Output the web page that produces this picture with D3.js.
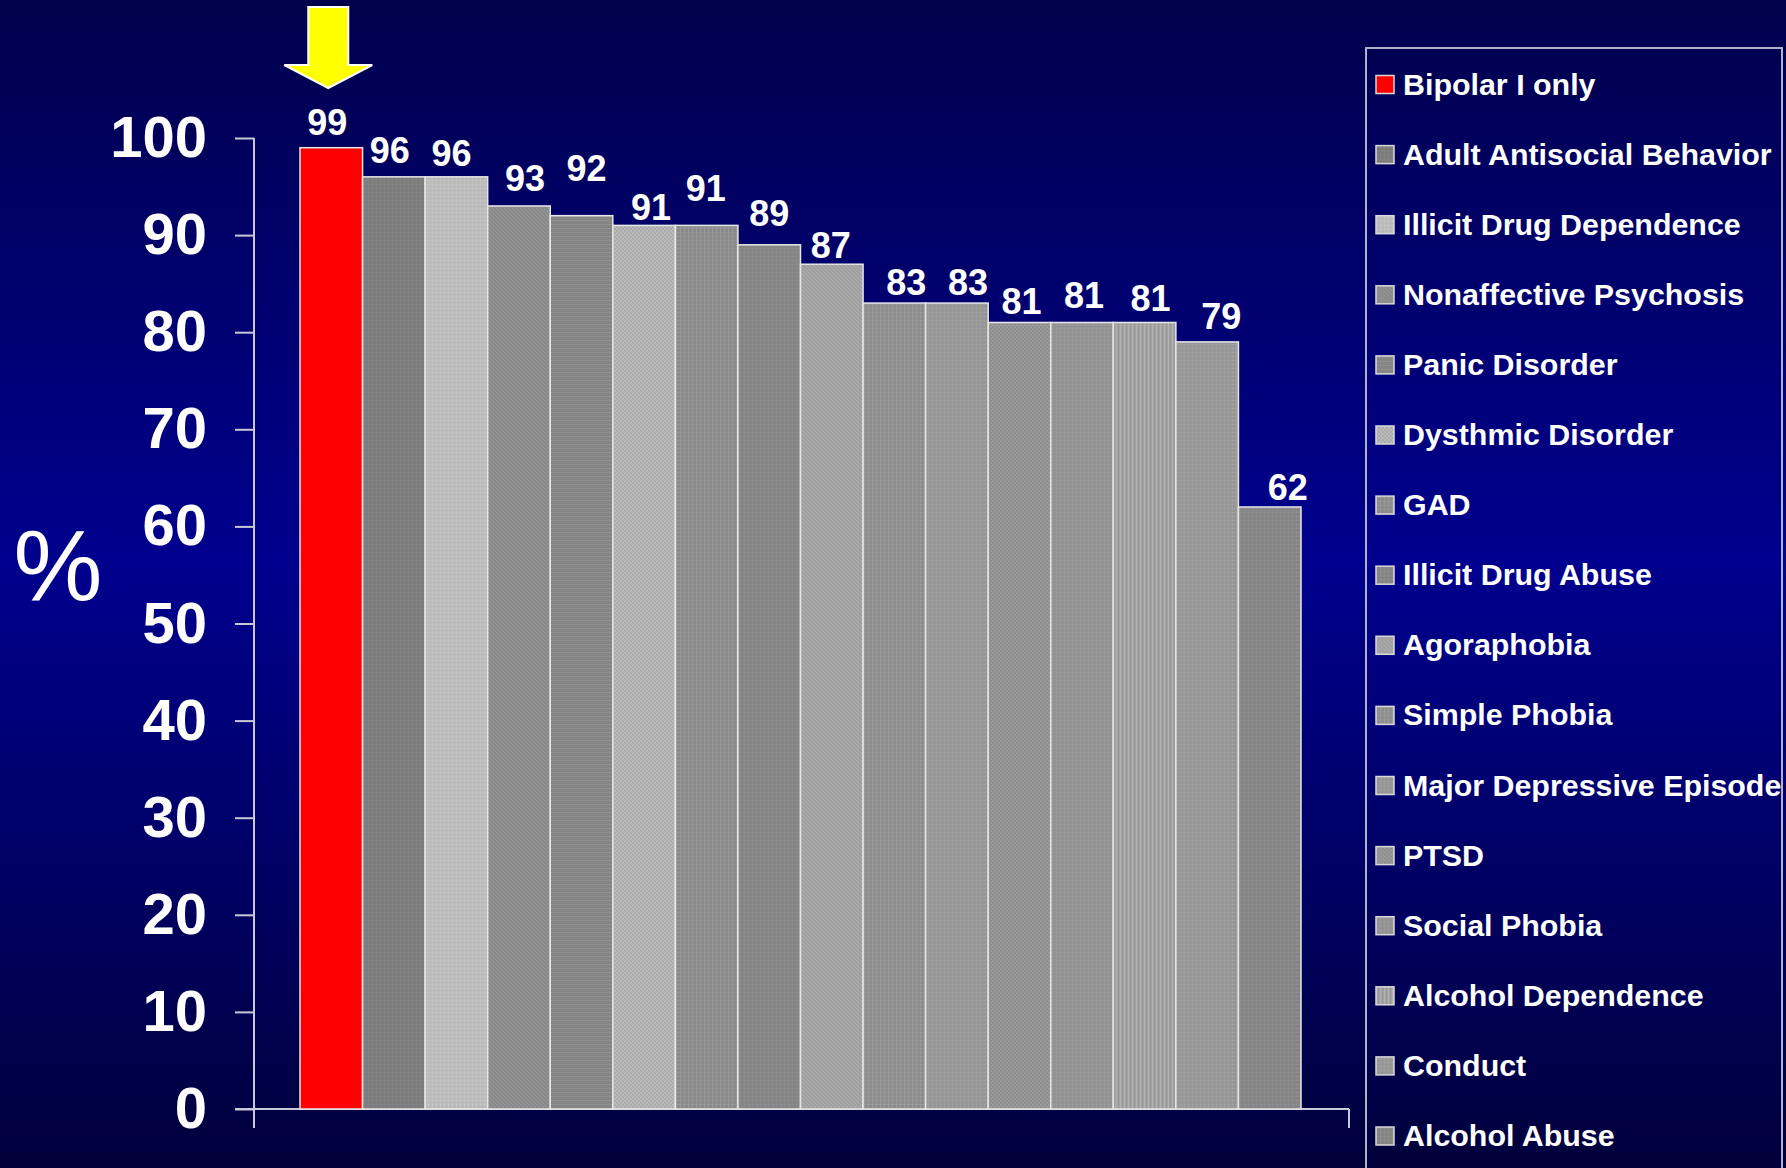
<!DOCTYPE html>
<html>
<head>
<meta charset="utf-8">
<script src="https://cdn.jsdelivr.net/npm/d3@7"></script>
<style>
  html, body { margin: 0; padding: 0; background: #000060; }
  svg { display: block; }
  text { font-family: "Liberation Sans", Arial, Helvetica, sans-serif; }
</style>
</head>
<body>
<svg id="chart" width="1786" height="1168"></svg>
<script>
// Lifetime comorbidity (%) by disorder
const categories = [
  "Bipolar I only", "Adult Antisocial Behavior", "Illicit Drug Dependence",
  "Nonaffective Psychosis", "Panic Disorder", "Dysthmic Disorder", "GAD",
  "Illicit Drug Abuse", "Agoraphobia", "Simple Phobia", "Major Depressive Episode",
  "PTSD", "Social Phobia", "Alcohol Dependence", "Conduct", "Alcohol Abuse"
];
const values = [99, 96, 96, 93, 92, 91, 91, 89, 87, 83, 83, 81, 81, 81, 79, 62];
const yTicks = [0, 10, 20, 30, 40, 50, 60, 70, 80, 90, 100];

// fill base colours and texture kinds per series
const fills = ["#ff0000", "#7f7f7f", "#bdbdbd", "#8a8a8a", "#858585", "#ababab", "#8a8a8a",
  "#878787", "#a0a0a0", "#8c8c8c", "#989898", "#8e8e8e", "#959595", "#a3a3a3", "#9a9a9a", "#888888"];
const textures = ["none", "dots", "dots", "diag", "hlines", "checker", "grid",
  "dots", "diag", "grid", "dots", "checker", "dots", "vlines", "dots", "dots"];

// hand-placed nudges of the value labels (px), as laid out on the slide
const labelNudgeX = [-4, -4, -5, 6, 5, 7, -1, 0, -1, 12, 11, 2, 2, 6, 14, 18];
const labelNudgeY = [0, -1, 2, -2, -22, 8, -11, -6, 7, 5, 5, 5, -1, 2, 0, 6];

const svg = d3.select("#chart");
const W = 1786, H = 1168;
const defs = svg.append("defs");

// background
const bg = defs.append("linearGradient").attr("id", "bg").attr("x1", 0).attr("y1", 0).attr("x2", 0).attr("y2", 1);
bg.append("stop").attr("offset", "0%").attr("stop-color", "#00004c");
bg.append("stop").attr("offset", "48%").attr("stop-color", "#00008e");
bg.append("stop").attr("offset", "100%").attr("stop-color", "#00003c");
svg.append("rect").attr("width", W).attr("height", H).attr("fill", "url(#bg)");

// textures
fills.forEach((c, i) => {
  const t = textures[i];
  const p = defs.append("pattern").attr("id", "pat" + i).attr("patternUnits", "userSpaceOnUse")
    .attr("width", 4).attr("height", 4);
  p.append("rect").attr("width", 4).attr("height", 4).attr("fill", c);
  const lite = d3.color(c).brighter(0.25).formatHex();
  const dark = d3.color(c).darker(0.2).formatHex();
  const px = (x, y, w, h, f) => p.append("rect").attr("x", x).attr("y", y).attr("width", w).attr("height", h).attr("fill", f);
  if (t === "dots") {
    px(0, 0, 1, 1, lite); px(2, 2, 1, 1, dark);
  } else if (t === "diag") {
    px(0, 0, 1, 1, lite); px(1, 1, 1, 1, lite); px(2, 2, 1, 1, lite); px(3, 3, 1, 1, lite);
  } else if (t === "hlines") {
    px(0, 0, 4, 1, lite);
  } else if (t === "vlines") {
    px(0, 0, 1, 4, lite); px(2, 0, 1, 4, dark);
  } else if (t === "checker") {
    px(0, 0, 2, 2, lite); px(2, 2, 2, 2, lite);
  } else if (t === "grid") {
    px(0, 0, 4, 1, lite); px(0, 0, 1, 4, lite);
  }
});
const fillOf = i => textures[i] === "none" ? fills[i] : `url(#pat${i})`;

// plot area
const plotLeft = 254, plotRight = 1349, plotTop = 138, plotBottom = 1109;
const y = d3.scaleLinear().domain([0, 100]).range([plotBottom, plotTop]);
const x = d3.scaleBand().domain(categories).range([300, 1301]).paddingInner(0);

// y axis
const yAxis = svg.append("g").attr("transform", `translate(${plotLeft},0)`)
  .call(d3.axisLeft(y).tickValues(yTicks).tickSize(19).tickPadding(28).tickFormat(d3.format("d")));
yAxis.select(".domain").remove();
yAxis.selectAll(".tick line").attr("stroke", "#c8c8d8").attr("stroke-width", 2);
yAxis.selectAll(".tick text").attr("fill", "#ffffff").attr("font-size", 58).attr("font-weight", "bold")
  .attr("font-family", "'Liberation Sans', Arial, sans-serif");

// axis lines
const axisColor = "#c8c8d8";
svg.append("line").attr("x1", plotLeft).attr("x2", plotLeft).attr("y1", plotTop).attr("y2", plotBottom + 19)
  .attr("stroke", axisColor).attr("stroke-width", 2);
svg.append("line").attr("x1", plotLeft - 19).attr("x2", plotRight).attr("y1", plotBottom).attr("y2", plotBottom)
  .attr("stroke", axisColor).attr("stroke-width", 2);
svg.append("line").attr("x1", plotRight).attr("x2", plotRight).attr("y1", plotBottom).attr("y2", plotBottom + 19)
  .attr("stroke", axisColor).attr("stroke-width", 2);

// bars
svg.append("g").selectAll("rect").data(values).join("rect")
  .attr("x", (d, i) => x(categories[i]))
  .attr("y", d => y(d))
  .attr("width", x.bandwidth())
  .attr("height", d => y(0) - y(d))
  .attr("fill", (d, i) => fillOf(i))
  .attr("stroke", "#e6e6e6")
  .attr("stroke-width", 1.5);

// value labels
svg.append("g").selectAll("text").data(values).join("text")
  .attr("x", (d, i) => x(categories[i]) + x.bandwidth() / 2 + labelNudgeX[i])
  .attr("y", (d, i) => y(d) - 13 + labelNudgeY[i])
  .attr("text-anchor", "middle")
  .attr("fill", "#ffffff")
  .attr("font-size", 36)
  .attr("font-weight", "bold")
  .text(d => d);

// y axis title
svg.append("text").attr("x", 58).attr("y", 600).attr("text-anchor", "middle")
  .attr("fill", "#ffffff").attr("font-size", 100).text("%");

// highlight arrow over the first bar
const ax = x(categories[0]) + x.bandwidth() / 2 - 3;
const arrowPath = [
  [ax - 20, 7], [ax + 20, 7], [ax + 20, 65], [ax + 44, 65], [ax, 88], [ax - 44, 65], [ax - 20, 65]
];
svg.append("path").attr("d", d3.line()(arrowPath) + "Z")
  .attr("fill", "#ffff00").attr("stroke", "#ffffff").attr("stroke-width", 2).attr("stroke-linejoin", "miter");

// legend
const legX = 1366, legY = 48, rowH = 70.1, firstRow = 84.5;
svg.append("rect").attr("x", legX).attr("y", legY).attr("width", 1782 - legX).attr("height", H + 10 - legY)
  .attr("fill", "none").attr("stroke", "#b0b0c8").attr("stroke-width", 2);
const leg = svg.append("g").selectAll("g").data(categories).join("g")
  .attr("transform", (d, i) => `translate(${legX + 10},${firstRow + i * rowH})`);
leg.append("rect").attr("x", 0).attr("y", -9).attr("width", 18).attr("height", 18)
  .attr("fill", (d, i) => fillOf(i)).attr("stroke", "#d8d8d8").attr("stroke-width", 1.5);
leg.append("text").attr("x", 27).attr("y", 10).attr("fill", "#ffffff")
  .attr("font-size", 30.4).attr("font-weight", "bold").text(d => d);
</script>
</body>
</html>
